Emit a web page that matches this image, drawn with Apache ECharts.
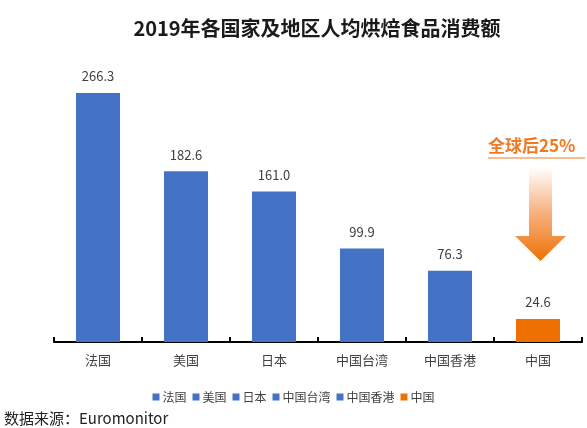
<!DOCTYPE html>
<html><head><meta charset="utf-8">
<script src="https://cdn.jsdelivr.net/npm/echarts@6/dist/echarts.min.js"></script>
<style>html,body{margin:0;padding:0;background:#fff}#c{width:587px;height:428px}</style>
</head><body><div id="c"></div>
<script>
var categories = ['法国', '美国', '日本', '中国台湾', '中国香港', '中国'];
var values = [266.3, 182.6, 161.0, 99.9, 76.3, 24.6];
var barColors = ['#4472C4', '#4472C4', '#4472C4', '#4472C4', '#4472C4', '#EE7000'];

var font = '"Noto Sans CJK SC", "Noto Sans", sans-serif';
var chart = echarts.init(document.getElementById('c'));
var series = categories.map(function (name, i) {
  var d = categories.map(function (_, j) { return j === i ? values[i] : '-'; });
  return {
    name: name, type: 'bar', data: d, barWidth: '50%', barGap: '-100%',
    itemStyle: { color: barColors[i] },
    label: { show: true, position: 'top', distance: 10, color: '#404040', fontSize: 13, fontFamily: font,
      formatter: function (p) { return p.value.toFixed(1); } }
  };
});
chart.setOption({
  animation: false,
  title: { text: '2019年各国家及地区人均烘焙食品消费额', left: 312, textAlign: 'center', top: 13,
    textStyle: { fontSize: 20, fontWeight: 'bold', color: '#1a1a1a', fontFamily: font } },
  legend: { data: categories, bottom: 20, left: 'center', itemWidth: 7, itemHeight: 7, itemGap: 6, icon: 'rect',
    textStyle: { fontSize: 12, color: '#404040', fontFamily: font, padding: [0, 0, 0, -2] } },
  grid: { left: 54, right: 5, top: 61.5, bottom: 86, containLabel: false },
  xAxis: { type: 'category', data: categories,
    axisLine: { show: true, onZero: false, lineStyle: { color: '#000', width: 2 } },
    axisTick: { show: true, inside: true, interval: 0, length: 5, lineStyle: { color: '#000', width: 2 } },
    axisLabel: { color: '#404040', fontSize: 13, margin: 12, fontFamily: font } },
  yAxis: { type: 'value', min: 0, max: 300, show: false },
  series: series,
  graphic: [
    { type: 'text', left: 488, top: 137, style: { text: '全球后25%', fontSize: 17, fontWeight: 'bold', fill: '#F07A22', fontFamily: font } },
    { type: 'line', shape: { x1: 488, y1: 158, x2: 585, y2: 158 }, style: { stroke: '#F07A22', lineWidth: 1.2 } },
    { type: 'polygon', shape: { points: [[529, 167], [552, 167], [552, 236], [566, 236], [540.5, 261], [515, 236], [529, 236]] },
      style: { fill: new echarts.graphic.LinearGradient(0, 0, 0, 1, [
        { offset: 0, color: 'rgba(240,122,34,0)' }, { offset: 0.5, color: 'rgba(240,122,34,0.6)' }, { offset: 1, color: '#EE7000' }]) } },
    { type: 'text', left: 4, top: 411, style: { text: '数据来源：Euromonitor', fontSize: 15, fill: '#222', fontFamily: font } }
  ]
});
</script></body></html>
